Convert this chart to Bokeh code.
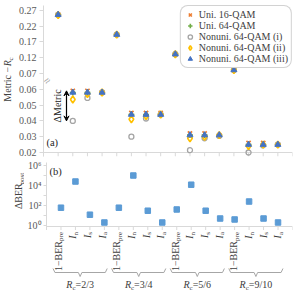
import math
from bokeh.plotting import figure
from bokeh.models import Range1d, FixedTicker, Legend, LegendItem, Label, Arrow, VeeHead
from bokeh.layouts import column, row
from bokeh.embed import file_html
from bokeh.resources import INLINE
from bokeh.core.properties import value

# ---------------- data ----------------
code_rates = ["2/3", "3/4", "5/6", "9/10"]
metric_main = ["1\u2212BER", "I", "I", "I"]
metric_sub = ["pre", "n", "s", "a"]
metric_italic = [False, True, True, True]

uni16 = [0.256, 0.059, 0.059, 0.058,
         0.193, 0.045, 0.045, 0.045,
         0.131, 0.032, 0.032, 0.031,
         0.081, 0.026, 0.026, 0.025]
uni64 = [0.256, 0.058, 0.058, 0.058,
         0.193, 0.044, 0.044, 0.044,
         0.131, 0.031, 0.031, 0.031,
         0.081, 0.025, 0.025, 0.025]
nonuni_i = [0.255, 0.040, 0.0545, 0.058,
            0.193, 0.030, 0.0415, 0.044,
            0.131, 0.0215, 0.029, 0.0305,
            0.081, 0.020, 0.0245, 0.025]
nonuni_ii = [0.255, 0.0535, 0.057, 0.058,
             0.193, 0.041, 0.043, 0.044,
             0.131, 0.029, 0.030, 0.031,
             0.081, 0.024, 0.025, 0.025]
nonuni_iii = [0.256, 0.058, 0.058, 0.058,
              0.193, 0.044, 0.044, 0.044,
              0.131, 0.031, 0.031, 0.031,
              0.081, 0.025, 0.025, 0.025]
dber_post = [60, 2.5e4, 12, 2,
             60, 1.0e5, 30, 2,
             40, 1.2e4, 30, 5,
             4, 250, 5, 2]

ytick_values = [0.02, 0.03, 0.04, 0.05, 0.06, 0.07, 0.12, 0.17, 0.22, 0.27]
log_ticks = [1, 100, 10**4, 10**6]
log_minor = [10, 1000, 10**5]
log_labels = ["10\u2070", "10\u00b2", "10\u2074", "10\u2076"]
series_names = ["Uni. 16-QAM", "Uni. 64-QAM", "Nonuni. 64-QAM (i)",
                "Nonuni. 64-QAM (ii)", "Nonuni. 64-QAM (iii)"]

# ---------------- helpers ----------------
FONT = "Liberation Serif"
AXC = "#D9D9D9"
TICKC = "#595959"
TXTC = "#404040"
W = 300
FL = 43          # frame left (page px)
MR = 8           # right border
LT_W = 14        # left label strip width (top row)
LB_W = 24        # left label strip width (bottom row)


def tf(v):
    # broken axis: 0.01 per tick below the break, 0.05 per tick above
    if v <= 0.07:
        return (v - 0.02) / 0.01
    return 5 + (v - 0.07) / 0.05


n = len(uni16)
xs = list(range(1, n + 1))
xr = Range1d(0, n + 1)
xticks = list(range(0, n + 2))


def style_y(p):
    p.grid.visible = False
    p.outline_line_color = None
    ax = p.yaxis[0]
    ax.axis_line_color = AXC
    ax.major_tick_line_color = AXC
    ax.minor_tick_line_color = AXC
    ax.major_label_text_font = FONT
    ax.major_label_text_font_size = "10px"
    ax.major_label_text_color = TICKC
    ax.major_tick_in = 0
    ax.major_tick_out = 4
    ax.minor_tick_in = 0
    ax.minor_tick_out = 0
    ax.major_label_standoff = 3
    ax.axis_label = None


def x_axis_glyphs(p, y0, y1):
    p.line([xticks[0], xticks[-1]], [y0, y0], line_color=AXC, line_width=1)
    p.segment(x0=xticks, y0=[y0] * len(xticks), x1=xticks, y1=[y1] * len(xticks),
              line_color=AXC, line_width=1)


def strip(width, height):
    s = figure(width=width, height=height, x_range=Range1d(0, width),
               y_range=Range1d(0, height), x_axis_location=None, y_axis_location=None,
               output_backend="svg", toolbar_location=None,
               min_border_left=0, min_border_right=0, min_border_top=0, min_border_bottom=0)
    s.grid.visible = False
    s.outline_line_color = None
    return s


def rot_text(p, x, y_center, parts):
    total = sum(w for _, _, _, w, _ in parts)
    y = y_center - total / 2
    for text, size, style, w, xo in parts:
        p.text(x=[x], y=[y], text=[text], angle=math.pi / 2, x_offset=xo,
               text_align="left", text_baseline="middle", text_font=value(FONT),
               text_font_size=size, text_font_style=style, text_color=TXTC)
        y += w


# ---------------- top panel (a) ----------------
TOP_FRAME_BOTTOM = 156
TOP_H = 159
top = figure(width=W - LT_W, height=TOP_H, x_range=xr, y_range=Range1d(-0.253, 9.3),
             x_axis_location=None, output_backend="svg", toolbar_location=None,
             min_border_left=FL - LT_W, min_border_right=MR,
             min_border_top=5, min_border_bottom=TOP_H - TOP_FRAME_BOTTOM)
style_y(top)
yt = [round(tf(v), 6) for v in ytick_values]
top.yaxis.ticker = FixedTicker(ticks=yt)
top.yaxis.major_label_overrides = {t: f"{v:.2f}" for t, v in zip(yt, ytick_values)}
x_axis_glyphs(top, 0, -0.253)

styles = [
    dict(marker="x", size=6, line_color="#ED7D31", line_width=1.6),
    dict(marker="cross", size=6, line_color="#70AD47", line_width=1.6),
    dict(marker="circle", size=5, fill_color=None, line_color="#A5A5A5", line_width=1.3),
    dict(marker="diamond", size=7, fill_color=None, line_color="#FFC000", line_width=1.6),
    dict(marker="triangle", size=6, fill_color="#4472C4", line_color="#4472C4"),
]
items = []
for vals, name, kw in zip([uni16, uni64, nonuni_i, nonuni_ii, nonuni_iii], series_names, styles):
    r = top.scatter(xs, [tf(v) for v in vals], **kw)
    items.append(LegendItem(label=name, renderers=[r]))

leg = Legend(items=items, location="top_right", label_text_font=FONT,
             label_text_font_size="10px", label_text_color=TXTC,
             border_line_color="#A6A6A6", border_line_width=1,
             background_fill_color="white", background_fill_alpha=1,
             padding=3, spacing=0, margin=0, label_height=11,
             glyph_height=11, glyph_width=12, label_standoff=3)
try:
    leg.border_radius = 8
except Exception:
    pass
top.add_layout(leg)

k = 1
ax_x = xs[k] - 0.43
top.add_layout(Arrow(start=VeeHead(size=5, fill_color="black", line_color="black"),
                     end=VeeHead(size=5, fill_color="black", line_color="black"),
                     x_start=ax_x, y_start=tf(nonuni_i[k]),
                     x_end=ax_x, y_end=tf(uni16[k]),
                     line_color="black", line_width=1.2))
top.add_layout(Label(x=xs[k] - 1.04, y=(tf(nonuni_i[k]) + tf(uni16[k])) / 2,
                     text="\u0394Metric", angle=math.pi / 2, text_align="center",
                     text_baseline="middle", text_font=FONT, text_font_size="10px",
                     text_color="#262626"))
top.add_layout(Label(x=0.2, y=tf(0.0263), text="(a)", text_align="left",
                     text_baseline="middle", text_font=FONT, text_font_size="10.5px",
                     text_color="#262626"))
top.add_layout(Label(x=0.22, y=4.56, text="\u2248", angle=math.pi / 4,
                     text_align="center", text_baseline="middle",
                     text_font_size="11px", text_color="#A6A6A6"))

lt = strip(LT_W, TOP_H)
rot_text(lt, 7, TOP_H - 78, [("Metric \u2212 ", "10px", "normal", 37.3, 0),
                             ("R", "10px", "italic", 6.1, 0),
                             ("c", "7px", "normal", 3.1, 3)])

# ---------------- bottom panel (b) ----------------
BOT_FRAME_TOP = 162
BOT_H = 230 - TOP_H
LOG_LO = 10 ** -0.1
bottom = figure(width=W - LB_W, height=BOT_H, x_range=xr,
                y_range=Range1d(10 ** -0.5, 10 ** 6.3), y_axis_type="log",
                x_axis_location=None, output_backend="svg", toolbar_location=None,
                min_border_left=FL - LB_W, min_border_right=MR,
                min_border_top=BOT_FRAME_TOP - TOP_H, min_border_bottom=0)
style_y(bottom)
bottom.yaxis.major_tick_out = 3
bottom.yaxis.minor_tick_out = 3
bottom.yaxis.major_label_standoff = 2
bottom.yaxis.ticker = FixedTicker(ticks=log_ticks, minor_ticks=log_minor)
bottom.yaxis.major_label_overrides = {t: s for t, s in zip(log_ticks, log_labels)}
x_axis_glyphs(bottom, LOG_LO, 10 ** -0.45)
bottom.scatter(xs, dber_post, marker="square", size=5.5,
               fill_color="#5B9BD5", line_color="#5B9BD5")
bottom.add_layout(Label(x=0.2, y=10 ** 5.45, text="(b)", text_align="left",
                        text_baseline="middle", text_font=FONT, text_font_size="10.5px",
                        text_color="#262626"))

lb = strip(LB_W, BOT_H)
rot_text(lb, 17.5, BOT_H - (189 - TOP_H), [("\u0394BER", "10px", "normal", 25.6, 0),
                                           ("post", "7px", "normal", 11.7, 3.5)])

# ---------------- category labels ----------------
LAB_H = 293 - TOP_H - BOT_H
lab = figure(width=W, height=LAB_H, x_range=xr, y_range=Range1d(0, LAB_H),
             x_axis_location=None, y_axis_location=None,
             output_backend="svg", toolbar_location=None,
             min_border_left=FL, min_border_right=MR,
             min_border_top=0, min_border_bottom=0)
lab.grid.visible = False
lab.outline_line_color = None

sub_w = {"pre": 9.0, "n": 3.5, "s": 2.7, "a": 3.1}
y_top = LAB_H - 1.5
cat_x = {False: [], True: []}
cat_y = {False: [], True: []}
cat_t = {False: [], True: []}
sx, sy, st = [], [], []
for i, x in enumerate(xs):
    j = i % len(metric_main)
    it = metric_italic[j]
    cat_x[it].append(x)
    cat_y[it].append(y_top - sub_w[metric_sub[j]])
    cat_t[it].append(metric_main[j])
    sx.append(x)
    sy.append(y_top)
    st.append(metric_sub[j])
for it in (False, True):
    lab.text(x=cat_x[it], y=cat_y[it], text=cat_t[it], angle=math.pi / 2,
             text_align="right", text_baseline="middle",
             text_font=value(FONT), text_font_size="10px",
             text_font_style="italic" if it else "normal", text_color=TXTC)
lab.text(x=sx, y=sy, text=st, angle=math.pi / 2, x_offset=3,
         text_align="right", text_baseline="middle",
         text_font=value(FONT), text_font_size="7px", text_color=TXTC)

# braces and group labels
g = len(metric_main)
centers = [sum(xs[i * g:(i + 1) * g]) / g for i in range(len(code_rates))]
bx, by = [], []
for c in centers:
    bx.append([c - 1.85, c - 1.72, c - 0.12, c, c + 0.12, c + 1.72, c + 1.85])
    by.append([25, 21, 21, 17, 21, 21, 25])
lab.multi_line(bx, by, line_color="#A6A6A6", line_width=1)

rate_w = {"2/3": 18.4, "3/4": 18.4, "5/6": 18.4, "9/10": 23.4}
r_w, c_w = 6.1, 3.1
gy = 9
for c, rname in zip(centers, code_rates):
    total = r_w + c_w + rate_w[rname]
    x0 = -total / 2
    lab.text(x=[c], y=[gy], text=["R"], x_offset=x0, text_align="left",
             text_baseline="middle", text_font=value(FONT), text_font_size="10px",
             text_font_style="italic", text_color=TXTC)
    lab.text(x=[c], y=[gy - 3], text=["c"], x_offset=x0 + r_w, text_align="left",
             text_baseline="middle", text_font=value(FONT), text_font_size="7px",
             text_color=TXTC)
    lab.text(x=[c], y=[gy], text=["=" + rname], x_offset=x0 + r_w + c_w,
             text_align="left", text_baseline="middle", text_font=value(FONT),
             text_font_size="10px", text_color=TXTC)

layout = column(row(lt, top, spacing=0), row(lb, bottom, spacing=0), lab, spacing=0)
open("out.html", "w").write(file_html(layout, INLINE))
